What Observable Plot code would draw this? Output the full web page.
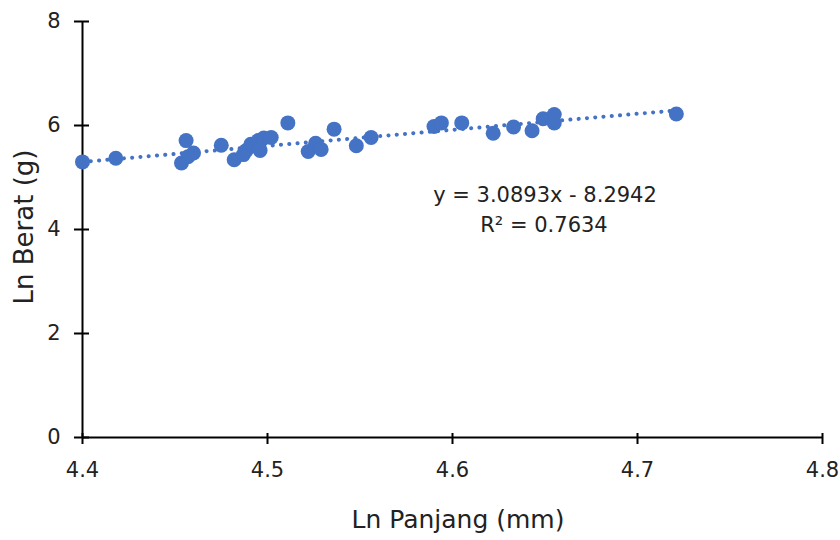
<!DOCTYPE html>
<html>
<head>
<meta charset="utf-8">
<script src="https://cdn.jsdelivr.net/npm/d3@7"></script>
<script src="https://cdn.jsdelivr.net/npm/@observablehq/plot@0.6"></script>
<style>
  html, body { margin: 0; padding: 0; background: #fff; }
  #chart { position: relative; width: 840px; height: 540px; }
  .eq { position: absolute; font-family: "DejaVu Sans", sans-serif; font-size: 21px; color: #222; text-align: center; width: 300px; line-height: 32px; }
</style>
</head>
<body>
<div id="chart"></div>
<script>
const lnPanjang = [4.400, 4.418, 4.456, 4.4535, 4.457, 4.460, 4.475, 4.482, 4.487, 4.4885, 4.491, 4.495, 4.496, 4.498, 4.502, 4.511, 4.522, 4.526, 4.529, 4.536, 4.548, 4.556, 4.590, 4.594, 4.605, 4.622, 4.633, 4.643, 4.649, 4.655, 4.655, 4.721];
const lnBerat   = [5.30, 5.37, 5.71, 5.28, 5.40, 5.47, 5.62, 5.34, 5.44, 5.52, 5.64, 5.71, 5.52, 5.76, 5.77, 6.05, 5.50, 5.66, 5.54, 5.93, 5.61, 5.77, 5.98, 6.05, 6.05, 5.85, 5.97, 5.90, 6.13, 6.21, 6.05, 6.22];
const slope = 3.0893;
const intercept = -8.2942;
const r2 = 0.7634;
const xTicks = [4.4, 4.5, 4.6, 4.7, 4.8];
const yTicks = [0, 2, 4, 6, 8];
const xLabel = "Ln Panjang (mm)";
const yLabel = "Ln Berat (g)";

const points = lnPanjang.map((x, i) => ({x, y: lnBerat[i]}));
const xMin = d3.min(lnPanjang), xMax = d3.max(lnPanjang);
const trend = [xMin, xMax].map(x => ({x, y: slope * x + intercept}));

const font = "'DejaVu Sans', sans-serif";
const plot = Plot.plot({
  width: 840,
  height: 540,
  marginTop: 21,
  marginBottom: 103,
  marginLeft: 82,
  marginRight: 18,
  style: {fontFamily: font, fontSize: "21px", color: "#222", background: "#fff", overflow: "visible"},
  x: {domain: [4.4, 4.8]},
  y: {domain: [0, 8]},
  marks: [
    Plot.axisX({ticks: xTicks, tickSize: 7, tickPadding: 18, tickFormat: d => d.toFixed(1), stroke: "#000", strokeWidth: 2, label: null, fill: "#222"}),
    Plot.axisX({ticks: xTicks, tickSize: -4, tickFormat: () => "", stroke: "#000", strokeWidth: 2, label: null}),
    Plot.axisY({ticks: yTicks, tickSize: 8, tickPadding: 14, stroke: "#000", strokeWidth: 2, label: null, fill: "#222"}),
    Plot.axisY({ticks: yTicks, tickSize: -7, tickFormat: () => "", stroke: "#000", strokeWidth: 2, label: null}),
    Plot.ruleY([0], {stroke: "#000", strokeWidth: 2}),
    Plot.ruleX([4.4], {stroke: "#000", strokeWidth: 2}),
    Plot.line(trend, {x: "x", y: "y", stroke: "#4472C4", strokeWidth: 4, strokeDasharray: "0.1 8.2", strokeLinecap: "round"}),
    Plot.dot(points, {x: "x", y: "y", r: 7.5, fill: "#4472C4", stroke: "none"})
  ]
});
const chart = document.getElementById("chart");
chart.appendChild(plot);

const svg = d3.select(plot);
svg.append("text").attr("x", 458).attr("y", 521).attr("text-anchor", "middle").attr("dominant-baseline", "middle")
  .style("font-family", font).style("font-size", "25px").attr("fill", "#222").text(xLabel);
svg.append("text").attr("transform", "translate(25,227) rotate(-90)").attr("text-anchor", "middle").attr("dominant-baseline", "middle")
  .style("font-family", font).style("font-size", "26px").attr("fill", "#222").text(yLabel);

const eq1 = document.createElement("div");
eq1.className = "eq";
eq1.style.left = (545 - 150) + "px";
eq1.style.top = (195 - 16) + "px";
eq1.textContent = `y = ${slope.toFixed(4)}x - ${Math.abs(intercept).toFixed(4)}`;
chart.appendChild(eq1);
const eq2 = document.createElement("div");
eq2.className = "eq";
eq2.style.left = (544 - 150) + "px";
eq2.style.top = (225 - 16) + "px";
eq2.textContent = `R² = ${r2.toFixed(4)}`;
chart.appendChild(eq2);
</script>
</body>
</html>
